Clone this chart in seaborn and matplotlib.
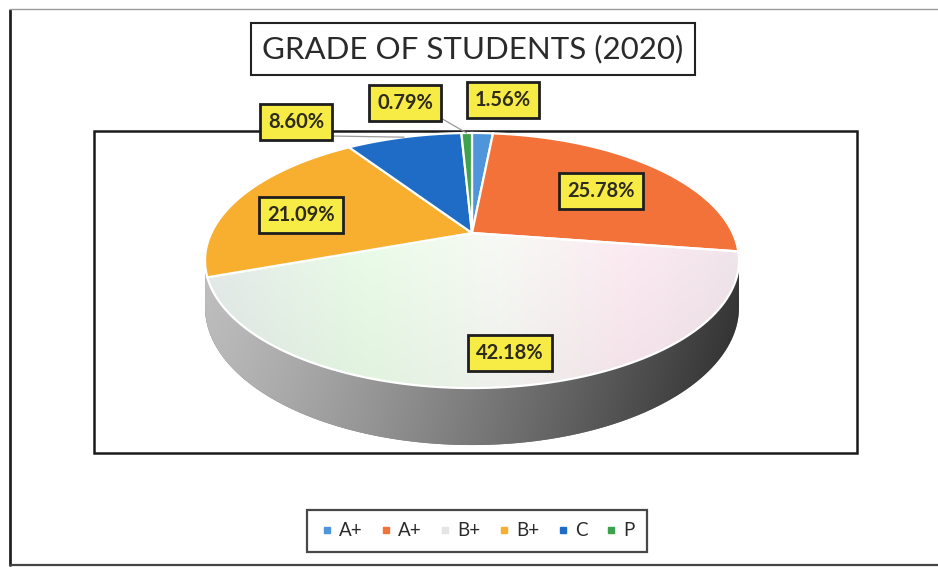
import numpy as np
import matplotlib
matplotlib.use("Agg")
import matplotlib.pyplot as plt
import seaborn as sns
from matplotlib.transforms import Transform
from matplotlib.path import Path
from matplotlib.patches import PathPatch, Rectangle
from matplotlib.lines import Line2D

# ---------------- data ----------------
categories = ["A+", "A+", "B+", "B+", "C", "P"]
shares = [1.56, 25.78, 42.18, 21.09, 8.60, 0.79]
label_texts = ["1.56%", "25.78%", "42.18%", "21.09%", "8.60%", "0.79%"]
title_text = "GRADE OF STUDENTS (2020)"

# ---------------- style ----------------
slice_colors = ["#4F95DC", "#F2723A", "#E4E4E4", "#F8AE2F", "#1F6CC6", "#3DA24B"]
label_px = [(503, 100), (601, 191), (510, 353), (301, 215), (296, 122), (405, 103)]
leader_for = [4, 5]

W, H = 938, 567
CX, CY = 472, 233          # apex of pie on screen (px)
A_, B_, K_ = 260.7, 121.6, 0.2157
DEPTH = 44.7

sns.set_theme(style="white")
plt.rcParams["font.family"] = ["Lato", "DejaVu Sans"]
palette = sns.color_palette(slice_colors)


class Persp(Transform):
    """Perspective mapping of the unit pie disc onto screen pixels."""
    input_dims = 2
    output_dims = 2
    is_affine = False

    def __init__(self, drop=0.0):
        super().__init__()
        self.drop = drop

    def transform_non_affine(self, values):
        values = np.atleast_2d(np.asarray(values, float))
        u, v = values[:, 0], values[:, 1]
        d = 1 + K_ * v
        x = CX + A_ * u / d
        y = CY - (B_ * v - self.drop) / d
        return np.column_stack([x, y])

    def transform_path_non_affine(self, path):
        verts, codes = [], []
        for seg, code in path.iter_bezier():
            cp = seg.control_points
            if code == Path.MOVETO:
                verts.append(cp[0]); codes.append(Path.MOVETO)
            elif code == Path.CLOSEPOLY:
                verts.append(cp[-1]); codes.append(Path.CLOSEPOLY)
            elif code == Path.LINETO:
                verts.append(cp[-1]); codes.append(Path.LINETO)
            else:
                pts = seg(np.linspace(0, 1, 25)[1:])
                verts.extend(pts); codes.extend([Path.LINETO] * len(pts))
        return Path(self.transform_non_affine(np.array(verts)), codes)


fig = plt.figure(figsize=(W / 100, H / 100), dpi=100)
fig.patch.set_facecolor("white")
ax = fig.add_axes([0, 0, 1, 1])

# ---- pie (top face) ----
wedges, _ = ax.pie(shares, colors=palette, startangle=90, counterclock=False,
                   wedgeprops=dict(edgecolor="white", linewidth=1.6))
persp_top = Persp(0.0)
for w in wedges:
    w.set_transform(persp_top + ax.transData)
    w.set_zorder(4)
    w.set_clip_on(False)
wedges[2].set_facecolor("none")

# ---- side of the cylinder ----
a0 = np.arcsin(K_)
th1 = np.linspace(-a0, np.pi + a0, 240)
th2 = np.linspace(np.pi + a0, 2 * np.pi - a0, 240)
top_pts = persp_top.transform_non_affine(np.column_stack([np.cos(th1), np.sin(th1)]))
bot_pts = Persp(DEPTH).transform_non_affine(np.column_stack([np.cos(th2), np.sin(th2)]))
side_verts = np.vstack([top_pts, bot_pts, top_pts[:1]])
side_codes = [Path.MOVETO] + [Path.LINETO] * (len(side_verts) - 2) + [Path.CLOSEPOLY]
side_patch = PathPatch(Path(side_verts, side_codes), transform=ax.transData,
                       facecolor="#777777", edgecolor="none", zorder=1)
ax.add_patch(side_patch)

gx = np.linspace(0, 1, 300)
gy = np.linspace(0, 1, 80)
lum = 0.76 - 0.54 * gx[None, :] ** 1.25 - 0.06 * gy[:, None]
side_img = np.dstack([lum, lum, lum])
im_side = ax.imshow(np.clip(side_img, 0, 1), extent=(200, 745, 452, 240),
                    aspect="auto", interpolation="bilinear", zorder=2)
im_side.set_clip_path(side_patch)

# ---- gradient on the big light slice ----
stops_f = [0.0, 0.3, 0.55, 0.8, 1.0]
stops_c = np.array([[0.86, 0.88, 0.88], [0.88, 0.95, 0.87], [0.93, 0.94, 0.92],
                    [0.95, 0.88, 0.91], [0.90, 0.86, 0.88]])
top_img = np.stack([np.interp(gx, stops_f, stops_c[:, i]) for i in range(3)], axis=-1)
top_img = np.repeat(top_img[None, :, :], 80, axis=0)
top_img = top_img + 0.04 * (1 - gy[:, None, None])
im_top = ax.imshow(np.clip(top_img, 0, 1), extent=(200, 745, 400, 230),
                   aspect="auto", interpolation="bilinear", zorder=3)
im_top.set_clip_path(wedges[2])

ax.set_xlim(0, W)
ax.set_ylim(H, 0)
ax.set_aspect("auto")
ax.axis("off")

# ---- frames ----
ax.add_line(Line2D([10, 10], [10, 565], color="#222222", lw=2.0, zorder=0))
ax.add_line(Line2D([10, 938], [565, 565], color="#444444", lw=1.6, zorder=0))
ax.add_line(Line2D([10, 938], [9, 9], color="#9a9a9a", lw=1.0, zorder=0))
ax.add_patch(Rectangle((94, 131), 763, 322, facecolor="none",
                       edgecolor="#1a1a1a", lw=1.8, zorder=0))

# ---- title ----
fig.text(473 / W, 1 - 49 / H, title_text, ha="center", va="center",
         fontsize=22.5, color="#2a2a2a",
         bbox=dict(boxstyle="square,pad=0.36", facecolor="white",
                   edgecolor="#222222", lw=1.5))

# ---- data labels ----
cum = np.cumsum([0] + shares[:-1])
for i, (txt, (px, py)) in enumerate(zip(label_texts, label_px)):
    if i in leader_for:
        mid = cum[i] + shares[i] / 2
        ang = np.deg2rad(90 - 360 * mid / sum(shares))
        rx, ry = persp_top.transform_non_affine([[np.cos(ang), np.sin(ang)]])[0]
        ax.add_line(Line2D([px + 34, rx], [py + 14, ry], color="#999999",
                           lw=0.9, zorder=5))
    ax.text(px, py, txt, ha="center", va="center", fontsize=14.5,
            fontweight="bold", color="#2e2a1c", zorder=6,
            bbox=dict(boxstyle="square,pad=0.4", facecolor="#F6EC45",
                      edgecolor="#1e1e1e", lw=2.0))

# ---- legend ----
handles = [Line2D([], [], marker="s", linestyle="none", markersize=5,
                  markerfacecolor=c, markeredgecolor=c) for c in palette]
leg = fig.legend(handles, categories, loc="center", ncol=6,
                 bbox_to_anchor=(477 / W, 1 - 531 / H), frameon=True,
                 fancybox=False, fontsize=13.5, handletextpad=0.25,
                 columnspacing=0.85, handlelength=0.8, borderpad=0.65,
                 labelcolor="#2a2a2a")
leg.get_frame().set_edgecolor("#1a1a1a")
leg.get_frame().set_linewidth(1.6)

fig.savefig("out.png", dpi=100, facecolor="white")
